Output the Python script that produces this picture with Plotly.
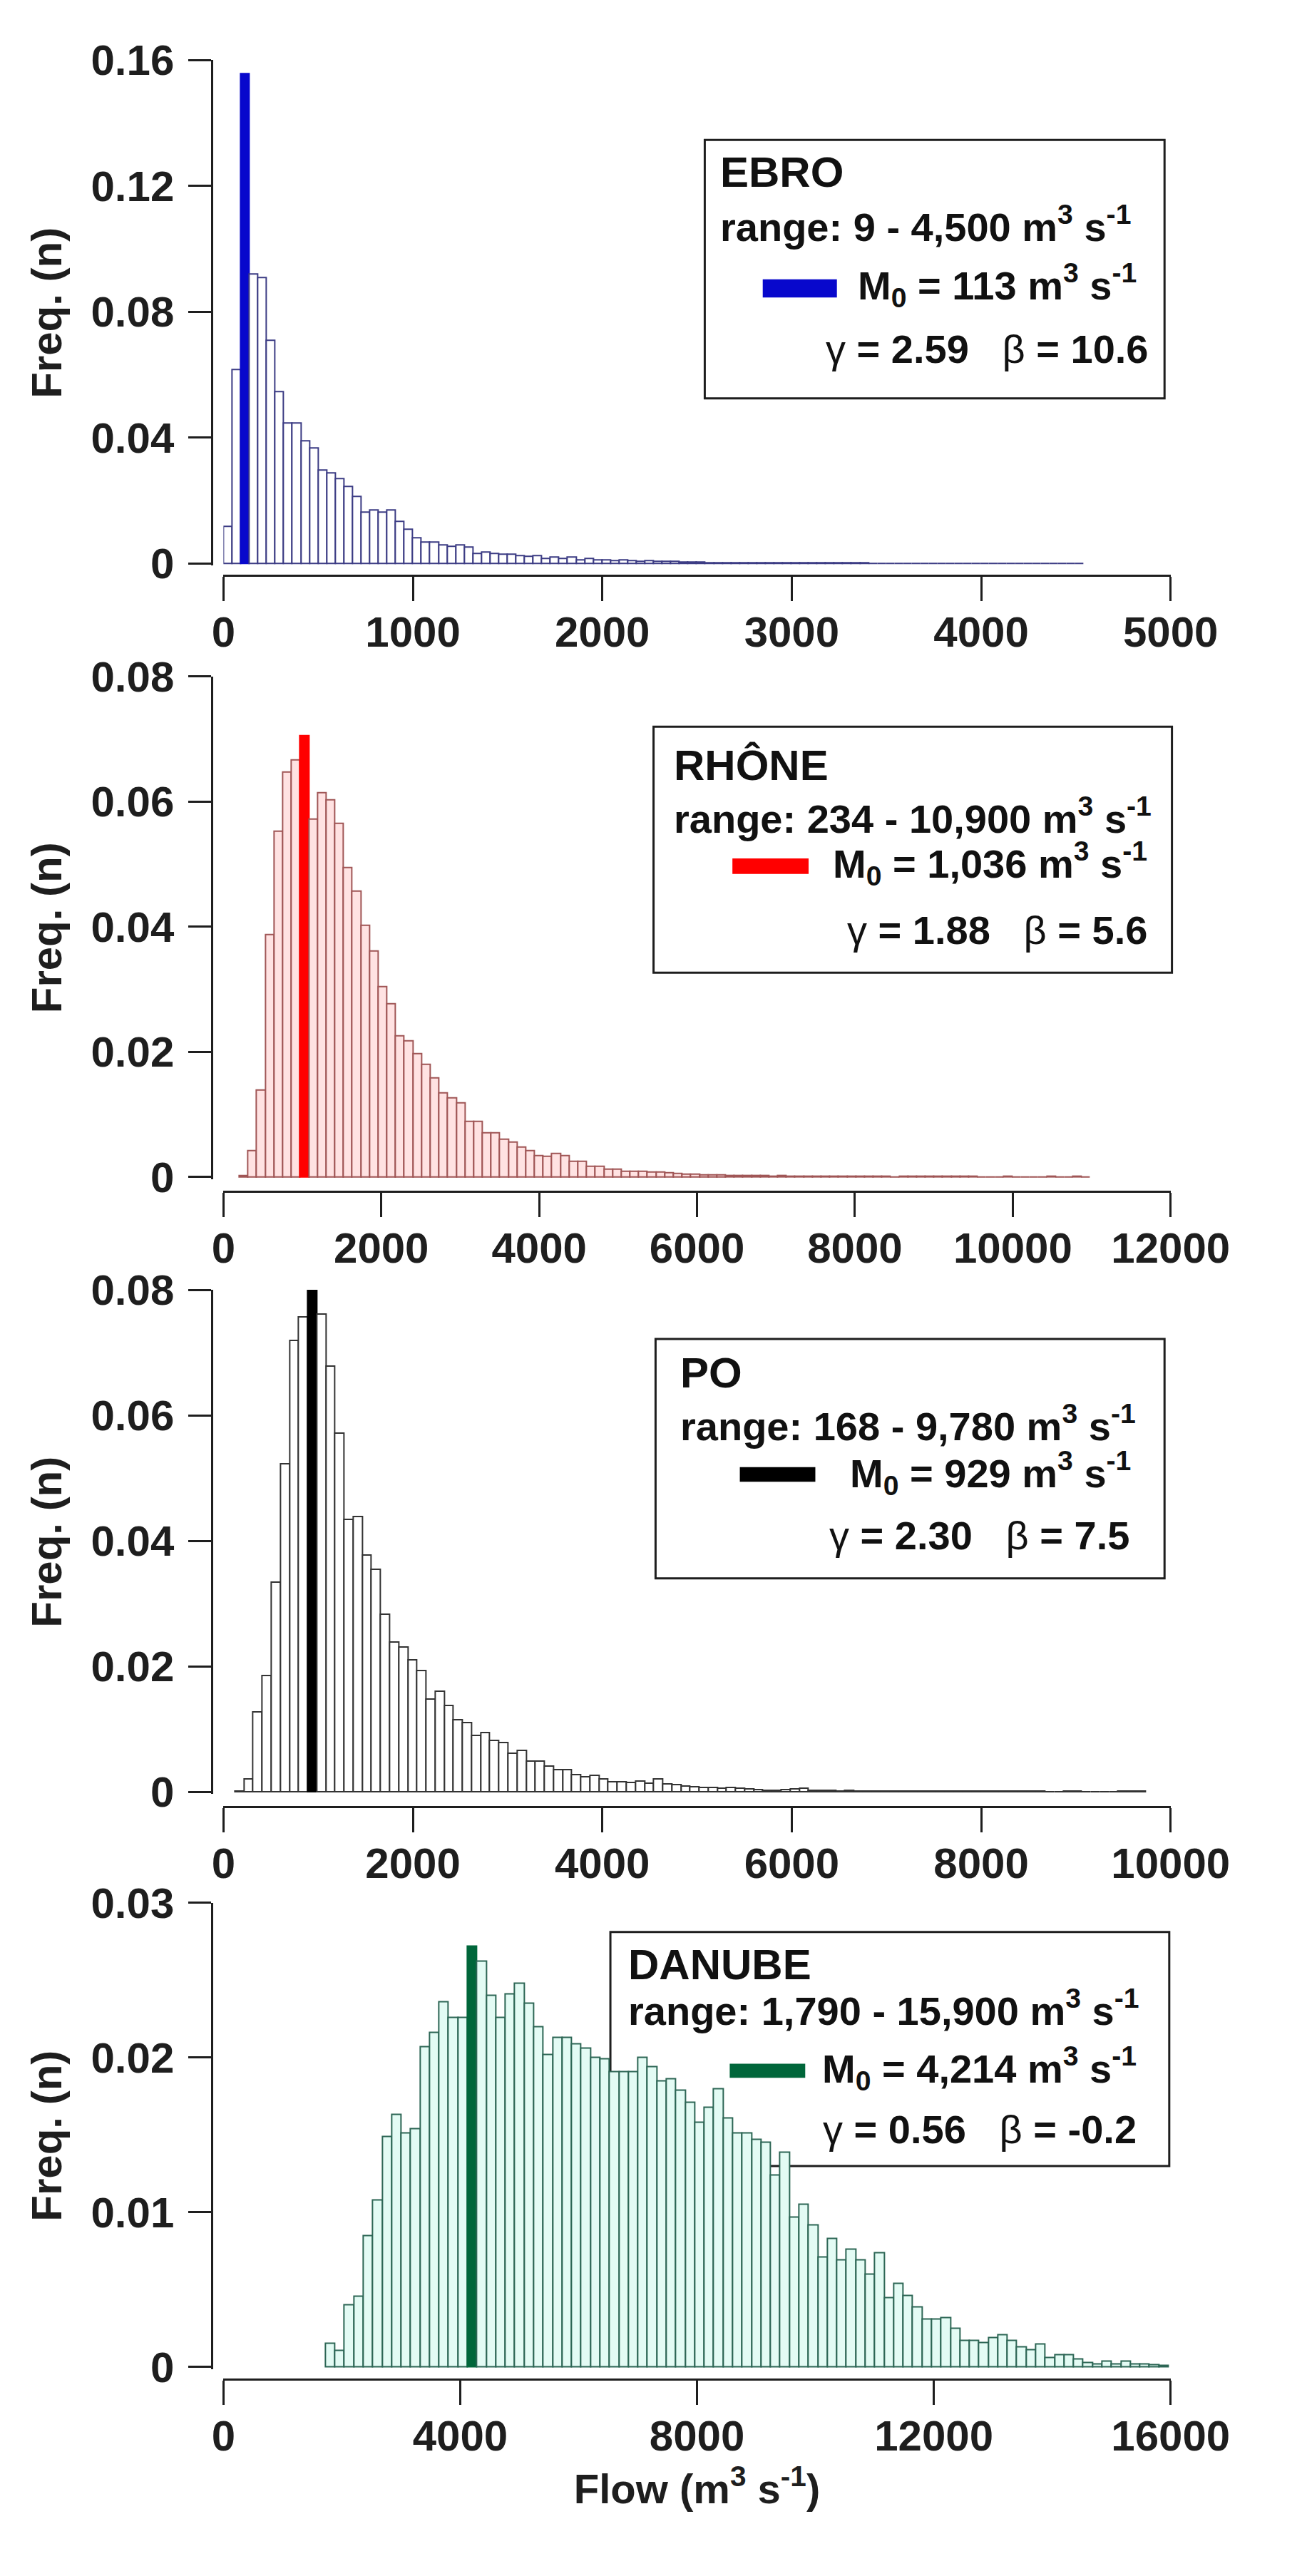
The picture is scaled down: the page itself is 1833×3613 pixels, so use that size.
import plotly.graph_objects as go

W, H = 1833, 3613

# ---- data: relative frequency per flow bin (bins of equal width from bin_start) ----
ebro_bin_start = 0
ebro_bin_width = 45.4
ebro_freq = [
    0.0118, 0.0616, 0.1557, 0.092, 0.091, 0.071, 0.0547, 0.0446, 0.0446, 0.039,
    0.0367, 0.0298, 0.0289, 0.027, 0.0245, 0.0214, 0.0164, 0.017, 0.0164, 0.017,
    0.0135, 0.011, 0.0083, 0.0068, 0.0068, 0.0059, 0.0055, 0.0059, 0.0052, 0.0033,
    0.0037, 0.0033, 0.0029, 0.0029, 0.0026, 0.0024, 0.0026, 0.0016, 0.002, 0.0016,
    0.002, 0.0013, 0.0017, 0.0012, 0.0011, 0.001, 0.0011, 0.0009, 0.0008, 0.0009,
    0.0008, 0.0007, 0.0007, 0.0006, 0.0005, 0.0005, 0.0004, 0.0004, 0.0004, 0.0003,
    0.0003, 0.0002, 0.0002, 0.0002, 0.0002, 0.0002, 0.0002, 0.0002, 0.0002, 0.0002,
    0.0002, 0.0002, 0.0002, 0.0002, 0.0002, 0, 0.0001, 0.0001, 0, 0,
    0, 0.0001, 0, 0.0001, 0.0001, 0, 0.0001, 0, 0.0001, 0,
    0.0001, 0, 0.0001, 0.0001, 0.0001, 0.0001, 0.0001, 0, 0.0001, 0.0001,
]
ebro_mode = 113

rhone_bin_start = 200
rhone_bin_width = 110
rhone_freq = [
    0.0003, 0.0043, 0.0139, 0.0388, 0.0553, 0.0647, 0.0667, 0.0705, 0.0572, 0.0614,
    0.0603, 0.0565, 0.0495, 0.0457, 0.0403, 0.0362, 0.0304, 0.0277, 0.0226, 0.0218,
    0.0197, 0.018, 0.0159, 0.0135, 0.0127, 0.0119, 0.0089, 0.0089, 0.0071, 0.0071,
    0.0061, 0.0056, 0.0048, 0.0043, 0.0035, 0.0033, 0.0038, 0.0035, 0.0026, 0.0026,
    0.0018, 0.0017, 0.0013, 0.0013, 0.001, 0.001, 0.0009, 0.0008, 0.0008, 0.0007,
    0.0006, 0.0005, 0.0005, 0.0004, 0.0004, 0.0004, 0.0003, 0.0003, 0.0003, 0.0003,
    0.0003, 0.0002, 0.0003, 0.0002, 0.0002, 0.0002, 0.0002, 0.0002, 0.0002, 0.0002,
    0.0002, 0.0002, 0.0001, 0.0002, 0.0001, 0, 0.0001, 0.0002, 0.0001, 0.0001,
    0.0001, 0.0001, 0.0001, 0.0001, 0.0001, 0, 0, 0, 0.0001, 0,
    0, 0, 0, 0.0001, 0, 0, 0.0001, 0,
]
rhone_mode = 1036

po_bin_start = 120
po_bin_width = 96.12
po_freq = [
    0.0002, 0.0021, 0.0128, 0.0186, 0.0334, 0.0523, 0.0719, 0.0757, 0.0801, 0.0761,
    0.0679, 0.0572, 0.0434, 0.0439, 0.0378, 0.0355, 0.0283, 0.0239, 0.0231, 0.021,
    0.0193, 0.0148, 0.0161, 0.0138, 0.0115, 0.011, 0.009, 0.0095, 0.0082, 0.0079,
    0.0062, 0.0066, 0.0049, 0.0049, 0.0041, 0.0036, 0.0036, 0.0028, 0.0024, 0.0026,
    0.0021, 0.0016, 0.0016, 0.0015, 0.0017, 0.0014, 0.0021, 0.0013, 0.0012, 0.001,
    0.0008, 0.0007, 0.0007, 0.0006, 0.0007, 0.0006, 0.0005, 0.0004, 0.0003, 0.0003,
    0.0004, 0.0005, 0.0006, 0.0003, 0.0003, 0.0003, 0.0002, 0.0003, 0.0002, 0.0002,
    0.0002, 0.0002, 0.0002, 0.0002, 0.0002, 0.0002, 0.0001, 0.0002, 0.0001, 0.0001,
    0.0001, 0.0001, 0.0001, 0.0001, 0.0001, 0.0001, 0.0001, 0.0001, 0.0001, 0,
    0, 0.0001, 0.0001, 0, 0, 0, 0, 0.0001, 0.0001, 0.0001,
]
po_mode = 929

danube_bin_start = 1720
danube_bin_width = 160
danube_freq = [
    0.00153, 0.00109, 0.00403, 0.00456, 0.00848, 0.0108, 0.0149, 0.01633, 0.0151, 0.0154,
    0.0207, 0.0216, 0.0236, 0.0226, 0.0226, 0.0272, 0.0262, 0.024, 0.0226, 0.0241,
    0.0248, 0.0235, 0.022, 0.0202, 0.0213, 0.0213, 0.0209, 0.0206, 0.02, 0.0199,
    0.0191, 0.0191, 0.0191, 0.02, 0.0194, 0.0185, 0.0186, 0.0179, 0.0171, 0.0158,
    0.0168, 0.018, 0.0161, 0.0151, 0.0151, 0.0147, 0.0145, 0.0124, 0.0139, 0.0097,
    0.0105, 0.0092, 0.0071, 0.0083, 0.0069, 0.0076, 0.0069, 0.006, 0.0074, 0.0045,
    0.0054, 0.0046, 0.0039, 0.0031, 0.0031, 0.0032, 0.0025, 0.0017, 0.0017, 0.0016,
    0.0019, 0.0021, 0.0017, 0.0013, 0.0011, 0.0015, 0.0006, 0.0008, 0.0008, 0.0005,
    0.0003, 0.0002, 0.0004, 0.0002, 0.0004, 0.0002, 0.0002, 0.00015, 0.0001,
]
danube_mode = 4214

# legend texts
ebro_text = ["EBRO", "range: 9 - 4,500", "113", "2.59", "10.6"]
rhone_text = ["RHÔNE", "range: 234 - 10,900", "1,036", "1.88", "5.6"]
po_text = ["PO", "range: 168 - 9,780", "929", "2.30", "7.5"]
danube_text = ["DANUBE", "range: 1,790 - 15,900", "4,214", "0.56", "-0.2"]

FONT = "Liberation Sans"
AXC = "#1e1e1e"


def px(x):
    return x / W


def py(y):
    return 1 - y / H


panels = [
    # data, styling, pixel layout of each panel
    dict(start=ebro_bin_start, width=ebro_bin_width, freq=ebro_freq, mode=ebro_mode, text=ebro_text,
         line="#3c3c84", fill="#ffffff", solid="#0808cc", ymax=0.16, ydt=0.04, xmax=5000, xdt=1000,
         zero=763, top=44, xline=780, box=(1019, 158, 1701, 527),
         rows=(204, 278, 365, 457), left=1040, right=(1662, 1680), swatch=(1105, 357, 1215, 383)),
    dict(start=rhone_bin_start, width=rhone_bin_width, freq=rhone_freq, mode=rhone_mode, text=rhone_text,
         line="#a05656", fill="#ffe2e2", solid="#ff0000", ymax=0.08, ydt=0.02, xmax=12000, xdt=2000,
         zero=1639, top=924, xline=1659, box=(943, 996, 1712, 1347),
         rows=(1051, 1123, 1191, 1286), left=971, right=(1677, 1677), swatch=(1060, 1184, 1173, 1206)),
    dict(start=po_bin_start, width=po_bin_width, freq=po_freq, mode=po_mode, text=po_text,
         line="#333333", fill="#ffffff", solid="#000000", ymax=0.08, ydt=0.02, xmax=10000, xdt=2000,
         zero=2517, top=1800, xline=2538, box=(946, 1870, 1701, 2212),
         rows=(1918, 1991, 2062, 2151), left=980, right=(1653, 1651), swatch=(1071, 2053, 1183, 2074)),
    dict(start=danube_bin_start, width=danube_bin_width, freq=danube_freq, mode=danube_mode, text=danube_text,
         line="#2d6655", fill="#e3fbf4", solid="#00663a", ymax=0.03, ydt=0.01, xmax=16000, xdt=4000,
         zero=3338, top=2675, xline=3355, box=(879, 2717, 1708, 3051),
         rows=(2763, 2826, 2912, 2999), left=903, right=(1662, 1662), swatch=(1056, 2905, 1168, 2925)),
]

fig = go.Figure()
shapes, annotations = [], []
layout = {}
X0, X1, YLINE = 305, 1710, 288
PAD = 3

for i, p in enumerate(panels, start=1):
    n = len(p["freq"])
    centres = [p["start"] + p["width"] * (k + 0.5) for k in range(n)]
    in_mode = [p["start"] + p["width"] * k <= p["mode"] < p["start"] + p["width"] * (k + 1) for k in range(n)]
    fills = [p["solid"] if m else p["fill"] for m in in_mode]
    lines = [p["solid"] if m else p["line"] for m in in_mode]
    xa, ya = ("x", "y") if i == 1 else (f"x{i}", f"y{i}")
    fig.add_trace(go.Bar(
        x=centres, y=p["freq"], width=p["width"], xaxis=xa, yaxis=ya,
        marker=dict(color=fills, line=dict(color=lines, width=2)),
        showlegend=False, hoverinfo="x+y",
    ))

    span = p["zero"] - p["top"]
    ylo = -p["ymax"] * PAD / span
    tickfont = dict(family=FONT, size=60, color=AXC, weight="bold")
    key = "" if i == 1 else str(i)
    layout[f"xaxis{key}"] = dict(
        domain=[px(X0), px(X1)], range=[0, p["xmax"]], anchor="free", position=py(p["xline"]),
        dtick=p["xdt"], tick0=0, tickformat="d", showline=True, linewidth=3, linecolor=AXC,
        ticks="outside", ticklen=34, tickwidth=3, tickcolor=AXC, tickfont=tickfont,
        showgrid=False, zeroline=False, ticklabelstandoff=-8,
    )
    layout[f"yaxis{key}"] = dict(
        domain=[py(p["zero"] + PAD), py(p["top"])], range=[ylo, p["ymax"]], anchor="free",
        position=px(YLINE), dtick=p["ydt"], tick0=0, showline=True, linewidth=3, linecolor=AXC,
        ticks="outside", ticklen=32, tickwidth=3, tickcolor=AXC, tickfont=tickfont,
        showgrid=False, zeroline=False, ticklabelstandoff=8,
        title=dict(text="<b>Freq. (n)</b>", font=dict(family=FONT, size=60, color=AXC), standoff=20),
    )

    # legend box
    bx0, by0, bx1, by1 = p["box"]
    shapes.append(dict(type="rect", xref="paper", yref="paper", layer="below",
                       x0=px(bx0), x1=px(bx1), y0=py(by1), y1=py(by0),
                       line=dict(color=AXC, width=3), fillcolor="white"))
    sx0, sy0, sx1, sy1 = p["swatch"]
    shapes.append(dict(type="rect", xref="paper", yref="paper",
                       x0=px(sx0), x1=px(sx1), y0=py(sy1), y1=py(sy0),
                       line=dict(width=0), fillcolor=p["solid"]))

    name, rng, m0, gam, bet = p["text"]
    r1, r2, r3, r4 = p["rows"]
    unit = " m<sup>3</sup> s<sup>-1</sup>"
    sp = "\u00a0\u00a0\u00a0"
    rows = [
        (f"<b>{name}</b>", p["left"], r1, "left", 60),
        (f"<b>{rng}{unit}</b>", p["left"], r2, "left", 56),
        (f"<b>M<sub>0</sub> = {m0}{unit}</b>", p["right"][0], r3, "right", 56),
        (f"γ<b> = {gam}</b>{sp}β<b> = {bet}</b>", p["right"][1], r4, "right", 56),
    ]
    for txt, x, y, anchor, size in rows:
        annotations.append(dict(text=txt, xref="paper", yref="paper", x=px(x), y=py(y),
                                xanchor=anchor, yanchor="middle", showarrow=False,
                                font=dict(family=FONT, size=size, color="#111111")))

layout["xaxis4"]["title"] = dict(text="<b>Flow (m<sup>3</sup> s<sup>-1</sup>)</b>",
                                 font=dict(family=FONT, size=58, color=AXC), standoff=12)

fig.update_layout(
    width=W, height=H, margin=dict(l=0, r=0, t=0, b=0),
    paper_bgcolor="white", plot_bgcolor="white",
    font=dict(family=FONT, color=AXC),
    shapes=shapes, annotations=annotations, bargap=0,
    **layout,
)

fig.write_html("out.html")
